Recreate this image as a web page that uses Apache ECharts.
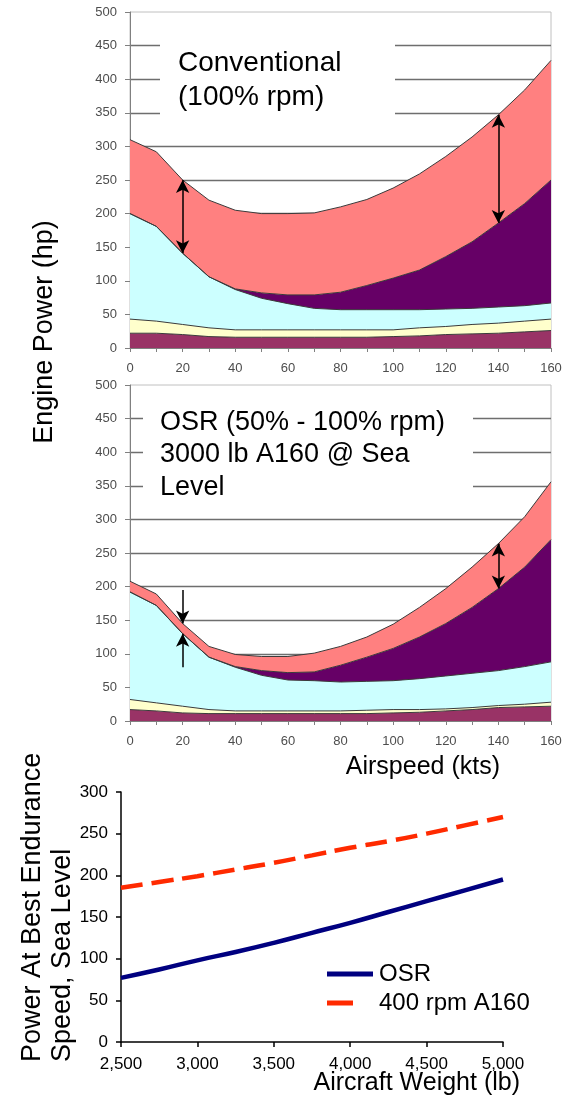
<!DOCTYPE html>
<html lang="en">
<head>
  <meta charset="UTF-8">
  <title>Engine Power vs Airspeed</title>
  <script src="https://cdn.jsdelivr.net/npm/echarts@6/dist/echarts.min.js"></script>
  <style>
    html, body { margin: 0; padding: 0; background: #fff; }
    #chart { width: 570px; height: 1101px; }
  </style>
</head>
<body>
<div id="chart"></div>
<script>
  var FONT = "'Liberation Sans', Arial, sans-serif";

  // airspeed (kts)
  var airspeed = ['0', '10', '20', '30', '40', '50', '60', '70', '80', '90', '100', '110', '120', '130', '140', '150', '160'];

  // conventional rotor (100% rpm): stacked layer thickness (hp), bottom to top
  var convMaroon = [22, 22, 20, 17, 16, 16, 16, 16, 16, 16, 17, 18, 20, 21, 22, 24, 26];
  var convYellow = [21, 18, 15, 13, 11, 11, 11, 11, 11, 11, 10, 12, 12, 14, 15, 16, 17];
  var convCyan   = [157, 141, 106, 76, 60, 47, 39, 32, 30, 30, 30, 27, 26, 24, 24, 23, 24];
  var convPurple = [0, 0, 0, 0, 1, 8, 13, 20, 26, 36, 47, 59, 78, 99, 125, 152, 183];
  var convSalmon = [110, 111, 109, 114, 117, 118, 121, 122, 127, 128, 134, 143, 149, 156, 161, 169, 178];

  // OSR (50% - 100% rpm)
  var osrMaroon = [17, 15, 12, 11, 11, 11, 11, 11, 11, 11, 12, 13, 15, 17, 20, 21, 22];
  var osrYellow = [15, 12, 10, 6, 4, 4, 4, 4, 4, 5, 5, 4, 3, 3, 3, 4, 6];
  var osrCyan   = [160, 145, 108, 78, 65, 53, 46, 45, 43, 43, 43, 46, 49, 51, 52, 56, 60];
  var osrPurple = [0, 0, 0, 0, 1, 7, 11, 13, 25, 36, 48, 62, 78, 98, 122, 148, 182];
  var osrSalmon = [16, 17, 15, 16, 18, 21, 24, 28, 28, 30, 36, 44, 52, 60, 67, 75, 86];

  // arrow positions (index into airspeed) and tail length of the inward arrows (hp)
  var arrowAt = [2, 14];
  var inwardTail = 50;

  // power at best endurance speed vs aircraft weight
  var weights = [2500, 2750, 3000, 3250, 3500, 3750, 4000, 4250, 4500, 4750, 5000];
  var osrPower  = [77, 87, 98, 108, 119, 131, 143, 156, 169, 182, 195];
  var a160Power = [185, 192, 199, 207, 215, 224, 233, 241, 250, 260, 270];

  var layerColors = ['#993366', '#ffffcc', '#ccffff', '#660066', '#ff8080'];

  var chart = echarts.init(document.getElementById('chart'));

  // sum of the first n layers at index i
  function stackTop(layers, i, n) {
    var s = 0;
    for (var k = 0; k < n; k++) s += layers[k][i];
    return s;
  }

  function areaXAxis(gi) {
    return {
      type: 'category', gridIndex: gi, data: airspeed, boundaryGap: false,
      axisLine: { lineStyle: { color: '#808080' } },
      axisTick: { interval: 0, length: 4, lineStyle: { color: '#808080' } },
      axisLabel: { interval: 1, color: '#4d4d4d', fontSize: 13, fontFamily: FONT, margin: 14 },
      splitLine: { show: false }
    };
  }

  function areaYAxis(gi) {
    return {
      type: 'value', gridIndex: gi, min: 0, max: 500, interval: 50,
      axisLine: { show: true, lineStyle: { color: '#808080' } },
      axisTick: { show: true, length: 5, lineStyle: { color: '#808080' } },
      axisLabel: { color: '#4d4d4d', fontSize: 13, fontFamily: FONT, margin: 13 },
      splitLine: { show: true, showMinLine: false, showMaxLine: false, lineStyle: { color: '#6e6e6e', width: 1.3 } }
    };
  }

  function areaSeries(gi, layers, arrows) {
    var list = layers.map(function (vals, k) {
      return {
        type: 'line', xAxisIndex: gi, yAxisIndex: gi, stack: 'p' + gi,
        data: vals, showSymbol: false, symbol: 'none', silent: true,
        lineStyle: { color: '#3a3a3a', width: 1 },
        areaStyle: { color: layerColors[k], opacity: 1 },
        itemStyle: { color: layerColors[k] }
      };
    });
    list[list.length - 1].markLine = {
      silent: true, animation: false,
      symbolSize: [10, 13],
      lineStyle: { color: '#000', width: 1.5, type: 'solid' },
      label: { show: false },
      data: arrows
    };
    return list;
  }

  var convLayers = [convMaroon, convYellow, convCyan, convPurple, convSalmon];
  var osrLayers = [osrMaroon, osrYellow, osrCyan, osrPurple, osrSalmon];

  // conventional: double arrows across the salmon band
  var convArrows = arrowAt.map(function (i) {
    return [
      { coord: [airspeed[i], stackTop(convLayers, i, 5)], symbol: 'arrow' },
      { coord: [airspeed[i], stackTop(convLayers, i, 4)], symbol: 'arrow' }
    ];
  });

  // OSR: inward arrows at the narrow band, double arrow on the right
  var a = arrowAt[0], b = arrowAt[1];
  var osrTop = stackTop(osrLayers, a, 5), osrLow = stackTop(osrLayers, a, 4);
  var osrArrows = [
    [{ coord: [airspeed[a], osrTop + inwardTail], symbol: 'none' }, { coord: [airspeed[a], osrTop], symbol: 'arrow' }],
    [{ coord: [airspeed[a], osrLow - inwardTail], symbol: 'none' }, { coord: [airspeed[a], osrLow], symbol: 'arrow' }],
    [{ coord: [airspeed[b], stackTop(osrLayers, b, 5)], symbol: 'arrow' }, { coord: [airspeed[b], stackTop(osrLayers, b, 4)], symbol: 'arrow' }]
  ];

  var series = areaSeries(0, convLayers, convArrows).concat(areaSeries(1, osrLayers, osrArrows));

  series.push({
    name: 'OSR', type: 'line', xAxisIndex: 2, yAxisIndex: 2,
    data: weights.map(function (w, i) { return [w, osrPower[i]]; }),
    showSymbol: false, symbol: 'none', smooth: true,
    lineStyle: { color: '#000080', width: 4.5 },
    itemStyle: { color: '#000080' }
  });
  series.push({
    name: '400 rpm A160', type: 'line', xAxisIndex: 2, yAxisIndex: 2,
    data: weights.map(function (w, i) { return [w, a160Power[i]]; }),
    showSymbol: false, symbol: 'none', smooth: true,
    lineStyle: { color: '#ff2a00', width: 4.5, type: [22, 9] },
    itemStyle: { color: '#ff2a00' }
  });

  var option = {
    animation: false,
    textStyle: { fontFamily: FONT },
    grid: [
      { left: 130, top: 12, width: 421, height: 336, show: true, borderColor: '#c0c0c0', borderWidth: 1 },
      { left: 130, top: 385, width: 421, height: 336, show: true, borderColor: '#c0c0c0', borderWidth: 1 },
      { left: 121, top: 792, width: 382, height: 250 }
    ],
    xAxis: [
      areaXAxis(0),
      areaXAxis(1),
      {
        type: 'value', gridIndex: 2, min: 2500, max: 5000, interval: 500,
        axisLine: { lineStyle: { color: '#000', width: 1.5 } },
        axisTick: { show: true, length: 5, lineStyle: { color: '#000', width: 1.5 } },
        axisLabel: {
          color: '#000', fontSize: 17, fontFamily: FONT, margin: 14,
          formatter: function (v) { return v.toLocaleString('en-US'); }
        },
        splitLine: { show: false }
      }
    ],
    yAxis: [
      areaYAxis(0),
      areaYAxis(1),
      {
        type: 'value', gridIndex: 2, min: 0, max: 300, interval: 50,
        axisLine: { show: true, lineStyle: { color: '#000', width: 1.5 } },
        axisTick: { show: true, length: 5, lineStyle: { color: '#000', width: 1.5 } },
        axisLabel: { color: '#000', fontSize: 17, fontFamily: FONT, margin: 13 },
        splitLine: { show: false }
      }
    ],
    legend: {
      data: [
        { name: 'OSR', icon: 'rect', itemStyle: { color: '#000080' } },
        { name: '400 rpm A160', icon: 'path://M0,0H26V5H0Z M46,5Z', itemStyle: { color: '#ff2a00' }, lineStyle: { opacity: 0 } }
      ],
      orient: 'vertical', left: 322, top: 957,
      itemWidth: 46, itemHeight: 5, itemGap: 5,
      textStyle: { color: '#000', fontSize: 24, fontFamily: FONT, padding: [0, 0, 0, 1] }
    },
    graphic: [
      // white boxes behind the captions break the grid lines
      { type: 'rect', z: 100, shape: { x: 160, y: 38, width: 235, height: 84 }, style: { fill: '#fff' } },
      { type: 'text', z: 101, x: 178, y: 80,
        style: { text: 'Conventional\n(100% rpm)', fontSize: 28, fontFamily: FONT, lineHeight: 34, fill: '#000', verticalAlign: 'middle' } },
      { type: 'rect', z: 100, shape: { x: 143, y: 405, width: 330, height: 96 }, style: { fill: '#fff' } },
      { type: 'text', z: 101, x: 160, y: 455,
        style: { text: 'OSR (50% - 100% rpm)\n3000 lb A160 @ Sea\nLevel', fontSize: 27, fontFamily: FONT, lineHeight: 32.5, fill: '#000', verticalAlign: 'middle' } },
      // axis titles
      { type: 'text', x: 45, y: 332, rotation: Math.PI / 2,
        style: { text: 'Engine Power (hp)', fontSize: 27, fontFamily: FONT, fill: '#000', align: 'center', verticalAlign: 'middle' } },
      { type: 'text', x: 500, y: 767,
        style: { text: 'Airspeed (kts)', fontSize: 25, fontFamily: FONT, fill: '#000', align: 'right', verticalAlign: 'middle' } },
      { type: 'text', x: 48, y: 1062, rotation: Math.PI / 2,
        style: { text: 'Power At Best Endurance\nSpeed, Sea Level', fontSize: 27, fontFamily: FONT, lineHeight: 30, fill: '#000', align: 'left', verticalAlign: 'middle' } },
      { type: 'text', x: 520, y: 1083,
        style: { text: 'Aircraft Weight (lb)', fontSize: 25, fontFamily: FONT, fill: '#000', align: 'right', verticalAlign: 'middle' } }
    ],
    series: series
  };

  chart.setOption(option);
</script>
</body>
</html>
